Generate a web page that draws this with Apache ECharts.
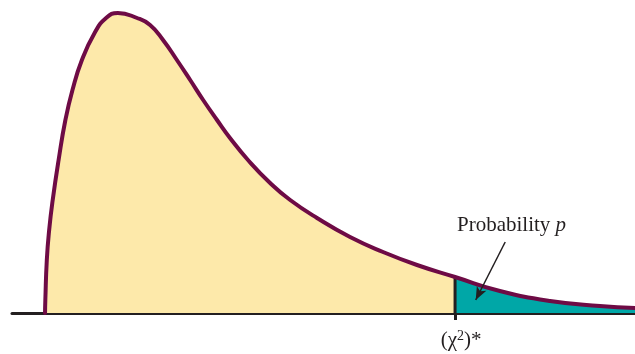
<!DOCTYPE html>
<html>
<head>
<meta charset="utf-8">
<script src="https://cdn.jsdelivr.net/npm/echarts@6/dist/echarts.min.js"></script>
<style>
  html, body { margin: 0; padding: 0; background: #fff; }
  #main { width: 635px; height: 354px; }
</style>
</head>
<body>
<div id="main"></div>
<script>
  // curve (x in chi-square units, y = density)
  var xs = [0, 0.01, 0.06, 0.14, 0.26, 0.46, 0.69, 0.93, 1.25, 1.68, 2.07, 2.47, 3.12, 3.56, 4.00, 4.47,
            4.92, 5.36, 5.83, 6.27, 6.88, 7.63, 8.31, 9.22, 10.34, 11.46, 12.61, 13.90, 15.42, 17.12, 18.81, 20.0];
  var ys = [0, 0.0065, 0.0265, 0.0415, 0.0565, 0.0765, 0.0965, 0.1115, 0.1265, 0.140, 0.1475, 0.150, 0.1475, 0.144, 0.1365, 0.1265,
            0.1165, 0.1065, 0.0965, 0.0875, 0.0765, 0.065, 0.0565, 0.0475, 0.038, 0.0305, 0.024, 0.018, 0.011, 0.006, 0.0035, 0.0025];
  var critX = 13.9;      // (χ²)*
  var critY = 0.018;     // curve height at (χ²)*
  var arrowFrom = [15.6, 0.0355];
  var arrowTo = [14.6, 0.0065];

  var curve = xs.map(function (x, i) { return [x, ys[i]]; });
  var leftPart = curve.filter(function (p) { return p[0] <= critX; });
  var rightPart = curve.filter(function (p) { return p[0] >= critX; });

  var chart = echarts.init(document.getElementById('main'));
  chart.setOption({
    animation: false,
    grid: { left: 12, right: 0, top: 0, bottom: 41 },
    xAxis: {
      type: 'value',
      min: -1.12,
      max: 20,
      splitLine: { show: false },
      axisLine: { show: true, lineStyle: { color: '#231f20', width: 3 } },
      axisTick: { show: true, customValues: [critX], length: 7, lineStyle: { color: '#231f20', width: 3 } },
      axisLabel: {
        show: true,
        customValues: [critX],
        formatter: function () { return '{n|(χ}{s|2}{n|)*}'; },
        margin: 16,
        padding: [0, 0, 0, 12],
        rich: {
          n: { fontFamily: 'Liberation Serif', fontSize: 21, color: '#231f20', lineHeight: 22 },
          s: { fontFamily: 'Liberation Serif', fontSize: 14, color: '#231f20', lineHeight: 22, verticalAlign: 'top' }
        }
      }
    },
    yAxis: {
      type: 'value',
      min: 0,
      max: 0.1565,
      show: false
    },
    series: [
      {
        type: 'line',
        data: leftPart,
        smooth: 0.5,
        showSymbol: false,
        lineStyle: { width: 0 },
        areaStyle: { color: '#fde9aa', opacity: 1 },
        z: 1
      },
      {
        type: 'line',
        data: rightPart,
        smooth: 0.5,
        showSymbol: false,
        lineStyle: { width: 0 },
        areaStyle: { color: '#00a7a7', opacity: 1 },
        z: 1
      },
      {
        type: 'line',
        data: [[critX, 0], [critX, critY]],
        showSymbol: false,
        lineStyle: { color: '#231f20', width: 3 },
        z: 2
      },
      {
        type: 'line',
        data: curve,
        smooth: 0.5,
        showSymbol: false,
        lineStyle: { color: '#6e0b45', width: 4, cap: 'round' },
        z: 3
      },
      {
        type: 'line',
        data: [arrowFrom, arrowTo],
        showSymbol: false,
        lineStyle: { width: 0 },
        z: 4,
        markLine: {
          silent: true,
          symbol: ['none', 'arrow'],
          symbolSize: [8, 13],
          label: { show: false },
          lineStyle: { color: '#231f20', width: 1.5, type: 'solid' },
          data: [[{ coord: arrowFrom }, { coord: arrowTo }]]
        }
      }
    ],
    graphic: [
      {
        type: 'text',
        left: 457,
        top: 215,
        style: {
          text: 'Probability {i|p}',
          fill: '#231f20',
          font: '21px "Liberation Serif"',
          rich: { i: { fontStyle: 'italic', fontSize: 21, fontFamily: 'Liberation Serif', fill: '#231f20' } }
        }
      }
    ]
  });
</script>
</body>
</html>
